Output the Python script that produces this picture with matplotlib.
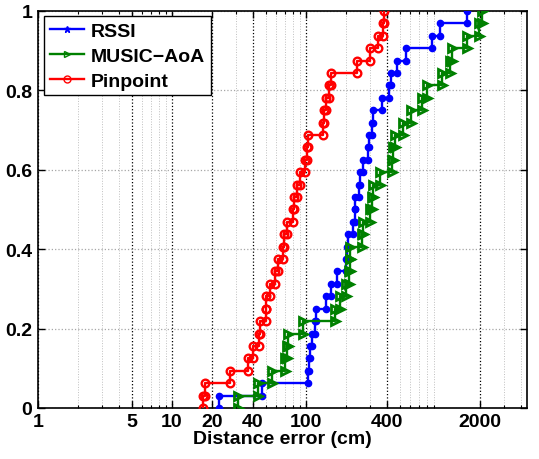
import numpy as np
import matplotlib.pyplot as plt
from matplotlib.lines import Line2D
from matplotlib.ticker import FixedLocator, LogLocator, NullFormatter

plt.rcParams['font.family'] = ['Liberation Sans', 'DejaVu Sans']
plt.rcParams['font.weight'] = 'bold'

# distance errors (cm)
rssi = [22.4, 47, 103.5, 105, 107, 110.5, 116, 118.6, 141, 154, 170, 200,
        202, 205, 224, 232, 234, 249, 253, 266, 290, 295, 311, 316, 369,
        416, 431, 478, 557, 871, 1000, 1590]
music_aoa = [31, 44, 56, 70, 72, 73, 95, 165, 180, 200, 208, 212, 215, 262,
             266, 300, 311, 316, 357, 440, 446, 461, 529, 605, 734, 800,
             1035, 1188, 1230, 1590, 1954, 2057]
pinpoint = [17, 17.5, 27, 37, 40, 45, 45.5, 50, 50.5, 54, 58.7, 62, 67, 69,
            72, 80, 81, 85.5, 90, 99, 101, 103, 134, 137, 141, 148, 154, 240,
            300, 345, 376, 380]

xticks = [1, 5, 10, 20, 40, 100, 400, 2000]
yticks = [0, 0.2, 0.4, 0.6, 0.8, 1]
series_names = ['RSSI', 'MUSIC\u2212AoA', 'Pinpoint']


def cdf_steps(samples):
    # stairs vertices: (x1,0),(x1,1/n),(x2,1/n),(x2,2/n),...
    s = np.sort(np.asarray(samples, dtype=float))
    n = len(s)
    x = np.repeat(s, 2)
    y = np.repeat(np.arange(n + 1) / n, 2)[1:-1]
    return x, y


fig = plt.figure(figsize=(5.39, 4.6), dpi=100)
ax = fig.add_axes([0.0705, 0.111, 0.908, 0.863])

styles = [
    dict(color='blue', marker='o', ms=4.5, mfc='blue', mec='blue'),
    dict(color=(0, 0.5, 0), marker='>', ms=6, mfc='none', mew=2),
    dict(color='red', marker='o', ms=5.5, mfc='none', mew=1.7),
]
for data, st in zip([rssi, music_aoa, pinpoint], styles):
    x, y = cdf_steps(data)
    ax.plot(x, y, lw=1.7, zorder=3, **st)

ax.set_xscale('log')
ax.set_xlim(1, 4500)
ax.set_ylim(0, 1)
ax.xaxis.set_major_locator(FixedLocator(xticks))
ax.set_xticklabels([str(t) for t in xticks])
ax.xaxis.set_minor_locator(LogLocator(base=10, subs=np.arange(2, 10)))
ax.xaxis.set_minor_formatter(NullFormatter())
ax.set_yticks(yticks)
ax.set_yticklabels(['0', '0.2', '0.4', '0.6', '0.8', '1'])

ax.grid(True, which='major', axis='x', color='k', ls=':', lw=0.9)
ax.grid(True, which='minor', axis='x', color='0.75', ls=':', lw=0.7)
ax.grid(True, which='major', axis='y', color='0.65', ls=':', lw=0.9)
ax.set_axisbelow(True)

ax.tick_params(which='both', direction='in', top=True, right=True,
               labelsize=14, pad=4)
ax.tick_params(which='major', length=5, width=1)
ax.tick_params(which='minor', length=2.5, width=0.8)
for sp in ax.spines.values():
    sp.set_linewidth(1.2)

ax.set_xlabel('Distance error (cm)', fontsize=14, fontweight='bold', labelpad=0)

handles = [
    Line2D([], [], color='blue', lw=1.7, marker='*', ms=5),
    Line2D([], [], color=(0, 0.5, 0), lw=1.7, marker='>', ms=5, mfc='none', mew=1),
    Line2D([], [], color='red', lw=1.7, marker='o', ms=5, mfc='none', mew=1),
]
leg = ax.legend(handles, series_names, loc='upper left',
                bbox_to_anchor=(0.012, 0.987), borderaxespad=0,
                fancybox=False, edgecolor='k', framealpha=1,
                fontsize=14, handlelength=1.75, handletextpad=0.35,
                labelspacing=0.38, borderpad=0.3)
leg.get_frame().set_linewidth(1.0)
for t in leg.get_texts():
    t.set_fontweight('bold')

fig.savefig('out.png', dpi=100)
